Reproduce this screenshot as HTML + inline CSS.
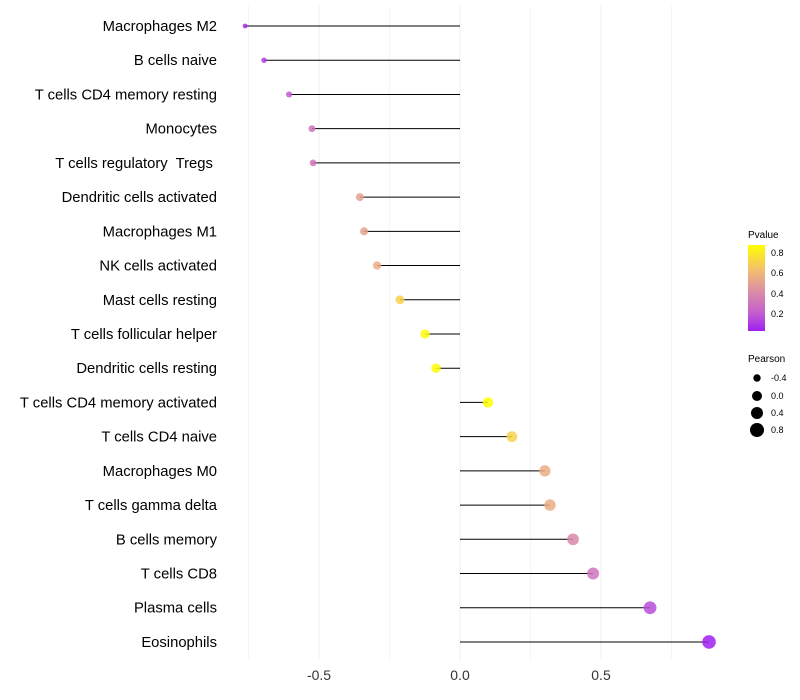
<!DOCTYPE html>
<html><head><meta charset="utf-8"><style>
body{margin:0;background:#fff;}
svg{display:block;font-family:"Liberation Sans",sans-serif;}
</style></head><body>
<svg id="chart" width="800" height="700">
<defs><linearGradient id="pg" x1="0" y1="1" x2="0" y2="0">
<stop offset="0" stop-color="#a020f0"/><stop offset="0.21" stop-color="#c45ed0"/><stop offset="0.44" stop-color="#d98aa8"/><stop offset="0.68" stop-color="#f0b878"/><stop offset="1" stop-color="#ffff00"/></linearGradient></defs>
<g id="grid"></g><g id="marks"></g><g id="labels"></g>
<g font-size="9" fill="#000">
<text x="748" y="238" font-size="10">Pvalue</text>
<rect x="748" y="245" width="17" height="86" fill="url(#pg)"/>
<text x="771" y="256">0.8</text><text x="771" y="276">0.6</text><text x="771" y="297">0.4</text><text x="771" y="317">0.2</text>
<text x="748" y="362" font-size="10">Pearson</text>
<circle cx="757" cy="378" r="3.7" fill="#000"/><text x="771" y="381">-0.4</text>
<circle cx="757" cy="396" r="5" fill="#000"/><text x="771" y="399">0.0</text>
<circle cx="757" cy="413" r="6" fill="#000"/><text x="771" y="416">0.4</text>
<circle cx="757" cy="430" r="7" fill="#000"/><text x="771" y="433">0.8</text>
</g>
</svg>
<script>
const categories=["Macrophages M2","B cells naive","T cells CD4 memory resting","Monocytes","T cells regulatory  Tregs ","Dendritic cells activated","Macrophages M1","NK cells activated","Mast cells resting","T cells follicular helper","Dendritic cells resting","T cells CD4 memory activated","T cells CD4 naive","Macrophages M0","T cells gamma delta","B cells memory","T cells CD8","Plasma cells","Eosinophils"];
const pearson=[-0.762,-0.695,-0.606,-0.525,-0.521,-0.355,-0.340,-0.294,-0.213,-0.124,-0.085,0.099,0.184,0.301,0.319,0.401,0.472,0.674,0.883];
const pvalues=[0.05,0.1,0.2,0.3,0.3,0.5,0.5,0.55,0.7,0.85,0.86,0.87,0.7,0.55,0.55,0.4,0.3,0.15,0.02];
const xTicks=[-0.5,0,0.5];
const xTickLabels=["-0.5","0.0","0.5"];
const NS="http://www.w3.org/2000/svg";
const xs=v=>460+v*282;
const ys=i=>26+i*34.22;
const rs=v=>Math.sqrt(Math.max(24.5+24.5*v,3));
const stops=[[0.02,[160,32,240]],[0.2,[196,94,208]],[0.4,[217,138,168]],[0.6,[240,184,120]],[0.87,[255,255,0]]];
function col(p){if(p<=stops[0][0])return "rgb("+stops[0][1]+")";for(let k=1;k<stops.length;k++){if(p<=stops[k][0]){const a=stops[k-1],b=stops[k],t=(p-a[0])/(b[0]-a[0]);return "rgb("+a[1].map((c,j)=>Math.round(c+(b[1][j]-c)*t)).join(",")+")";}}return "rgb(255,255,0)";}
function mk(tag,at,par){const e=document.createElementNS(NS,tag);for(const k in at)e.setAttribute(k,at[k]);par.appendChild(e);return e;}
const grid=document.getElementById("grid"),marks=document.getElementById("marks"),labels=document.getElementById("labels");
[-0.75,-0.5,-0.25,0,0.25,0.5,0.75].forEach(v=>{const g=mk("line",{x1:xs(v),x2:xs(v),y1:5,y2:660,stroke:"#f0f0f0","stroke-width":Number.isInteger(v*2)?1.1:0.6},grid);

});
xTicks.forEach((v,i)=>{const t=mk("text",{x:xs(v),y:680,"text-anchor":"middle","font-size":"14",fill:"#333"},labels);t.textContent=xTickLabels[i];

});
categories.forEach((c,i)=>{const y=ys(i);
const l=mk("line",{x1:xs(0),x2:xs(pearson[i]),y1:y,y2:y,stroke:"#000","stroke-width":1},marks);


const p=mk("circle",{cx:xs(pearson[i]),cy:y,r:rs(pearson[i]),fill:col(pvalues[i]),"fill-opacity":0.85},marks);


const t=mk("text",{x:217,y:y+5,"text-anchor":"end","font-size":"14.8",fill:"#000",style:"white-space:pre"},labels);t.textContent=c;

});
</script>
</body></html>
